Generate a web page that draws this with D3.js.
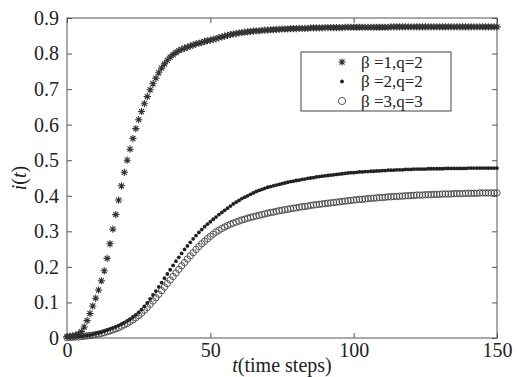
<!DOCTYPE html>
<html><head><meta charset="utf-8">
<script src="https://cdn.jsdelivr.net/npm/d3@7"></script>
<style>body{margin:0;background:#fff}svg{display:block}svg text{font-family:"Liberation Serif","Tinos","Times New Roman","DejaVu Serif",serif !important;fill:#222}</style>
</head><body><svg id="c" width="517" height="377"></svg>
<script>
const xTicks = [0, 50, 100, 150];
const yTicks = [0, 0.1, 0.2, 0.3, 0.4, 0.5, 0.6, 0.7, 0.8, 0.9];
const seriesLabels = ["\u03b2 =1,q=2", "\u03b2 =2,q=2", "\u03b2 =3,q=3"];
const s1 = [
0.004,0.005,0.006,0.008,0.011,0.018,0.031,0.049,0.069,0.090,
0.112,0.135,0.161,0.189,0.224,0.265,0.306,0.347,0.388,0.428,
0.466,0.500,0.531,0.561,0.589,0.614,0.637,0.659,0.679,0.698,
0.715,0.731,0.746,0.759,0.771,0.781,0.790,0.797,0.803,0.808,
0.812,0.815,0.818,0.821,0.824,0.827,0.829,0.831,0.834,0.836,
0.838,0.840,0.842,0.845,0.847,0.849,0.851,0.853,0.855,0.856,
0.858,0.859,0.860,0.861,0.862,0.863,0.864,0.864,0.865,0.866,
0.866,0.867,0.867,0.868,0.868,0.869,0.869,0.869,0.870,0.870,
0.870,0.871,0.871,0.871,0.871,0.872,0.872,0.872,0.872,0.872,
0.873,0.873,0.873,0.873,0.873,0.873,0.873,0.874,0.874,0.874,
0.874,0.874,0.874,0.874,0.874,0.874,0.874,0.874,0.874,0.874,
0.874,0.874,0.874,0.875,0.875,0.875,0.875,0.875,0.875,0.875,
0.875,0.875,0.875,0.875,0.875,0.875,0.875,0.875,0.875,0.875,
0.875,0.875,0.875,0.875,0.875,0.875,0.875,0.875,0.875,0.875,
0.875,0.875,0.875,0.875,0.875,0.875,0.875,0.875,0.875,0.875,0.875];
const s2 = [
0.002,0.002,0.003,0.003,0.004,0.005,0.006,0.007,0.008,0.010,
0.012,0.014,0.016,0.019,0.022,0.025,0.028,0.031,0.035,0.039,
0.043,0.048,0.053,0.059,0.065,0.072,0.080,0.089,0.099,0.110,
0.121,0.132,0.144,0.156,0.168,0.180,0.192,0.204,0.216,0.227,
0.238,0.249,0.259,0.269,0.279,0.288,0.297,0.305,0.313,0.320,
0.327,0.334,0.340,0.347,0.353,0.359,0.365,0.371,0.377,0.382,
0.387,0.392,0.396,0.400,0.404,0.408,0.412,0.415,0.418,0.421,
0.424,0.426,0.428,0.430,0.432,0.434,0.436,0.438,0.440,0.441,
0.443,0.444,0.446,0.447,0.449,0.450,0.451,0.453,0.454,0.455,
0.456,0.457,0.458,0.459,0.460,0.461,0.462,0.463,0.464,0.465,
0.465,0.466,0.467,0.467,0.468,0.468,0.469,0.469,0.470,0.470,
0.471,0.471,0.472,0.472,0.472,0.473,0.473,0.473,0.474,0.474,
0.474,0.475,0.475,0.475,0.475,0.475,0.476,0.476,0.476,0.476,
0.476,0.476,0.477,0.477,0.477,0.477,0.477,0.477,0.477,0.477,
0.478,0.478,0.478,0.478,0.478,0.478,0.478,0.478,0.478,0.478,0.478];
const s3 = [
0.001,0.002,0.002,0.003,0.003,0.004,0.005,0.006,0.007,0.008,
0.010,0.011,0.013,0.015,0.018,0.020,0.023,0.026,0.029,0.033,
0.037,0.041,0.046,0.051,0.057,0.063,0.070,0.078,0.086,0.095,
0.104,0.113,0.123,0.133,0.143,0.153,0.163,0.173,0.183,0.193,
0.203,0.212,0.222,0.231,0.240,0.249,0.257,0.265,0.272,0.279,
0.286,0.292,0.298,0.303,0.308,0.312,0.316,0.320,0.323,0.326,
0.329,0.332,0.334,0.337,0.339,0.341,0.343,0.345,0.347,0.349,
0.351,0.353,0.354,0.356,0.358,0.359,0.361,0.362,0.364,0.365,
0.366,0.368,0.369,0.370,0.371,0.373,0.374,0.375,0.376,0.377,
0.378,0.379,0.380,0.381,0.382,0.383,0.384,0.385,0.386,0.387,
0.388,0.389,0.390,0.390,0.391,0.392,0.393,0.393,0.394,0.395,
0.395,0.396,0.397,0.397,0.398,0.398,0.399,0.399,0.400,0.400,
0.401,0.401,0.402,0.402,0.402,0.403,0.403,0.403,0.404,0.404,
0.404,0.405,0.405,0.405,0.405,0.406,0.406,0.406,0.406,0.407,
0.407,0.407,0.407,0.407,0.408,0.408,0.408,0.408,0.408,0.408,0.408];

const FONT = "'Liberation Serif', Tinos, 'Times New Roman', 'DejaVu Serif', serif";
const svg = d3.select("#c");
const L = 67, R = 497, T = 18, B = 338;
const x = d3.scaleLinear().domain([0,150]).range([L,R]);
const y = d3.scaleLinear().domain([0,0.9]).range([B,T]);
const frame = "#555";

const ax = d3.axisBottom(x).tickValues(xTicks).tickSize(-5).tickPadding(5).tickFormat(d3.format("d"));
const gx = svg.append("g").attr("transform",`translate(0,${B})`).call(ax);
const gxt = svg.append("g").attr("transform",`translate(0,${T})`).call(d3.axisTop(x).tickValues(xTicks).tickSize(-5).tickFormat(""));
const ay = d3.axisLeft(y).tickValues(yTicks).tickSize(-5).tickPadding(8).tickFormat(d => d===0 ? "0" : d3.format(".1f")(d));
const gy = svg.append("g").attr("transform",`translate(${L},0)`).call(ay);
const gyr = svg.append("g").attr("transform",`translate(${R},0)`).call(d3.axisRight(y).tickValues(yTicks).tickSize(-5).tickFormat(""));
[gx,gxt,gy,gyr].forEach(g=>{
  g.attr("font-family",FONT);
  g.select(".domain").remove();
  g.selectAll(".tick line").attr("stroke",frame).attr("stroke-width",1);
  g.selectAll("text").attr("font-size",20).attr("fill","#222").style("font-family",FONT);
});
svg.append("rect").attr("x",L).attr("y",T).attr("width",R-L).attr("height",B-T)
  .attr("fill","none").attr("stroke",frame).attr("stroke-width",1);

const starPath = r => `M${-r},0L${r},0M0,${-r}L0,${r}M${-r*0.7},${-r*0.7}L${r*0.7},${r*0.7}M${-r*0.7},${r*0.7}L${r*0.7},${-r*0.7}`;
const plot = svg.append("g");
plot.selectAll("circle.s3").data(s3).join("circle").attr("class","s3")
  .attr("cx",(d,i)=>x(i)).attr("cy",d=>y(d)).attr("r",3.2)
  .attr("fill","none").attr("stroke","#444").attr("stroke-width",0.9);
plot.selectAll("circle.s2").data(s2).join("circle").attr("class","s2")
  .attr("cx",(d,i)=>x(i)).attr("cy",d=>y(d)).attr("r",1.9).attr("fill","#222");
plot.selectAll("path.s1").data(s1).join("path").attr("class","s1")
  .attr("transform",(d,i)=>`translate(${x(i)},${y(d)})`).attr("d",starPath(3.6))
  .attr("stroke","#333").attr("stroke-width",1.1).attr("fill","none");

const lg = svg.append("g");
lg.append("rect").attr("x",301).attr("y",52).attr("width",150).attr("height",59)
  .attr("fill","#fff").attr("stroke","#444").attr("stroke-width",1);
const rows = [62, 81.5, 101];
lg.append("path").attr("transform",`translate(342,${rows[0]})`).attr("d",starPath(3.6)).attr("stroke","#333").attr("stroke-width",1.1);
lg.append("circle").attr("cx",342).attr("cy",rows[1]).attr("r",1.9).attr("fill","#222");
lg.append("circle").attr("cx",342).attr("cy",rows[2]).attr("r",3.6).attr("fill","none").attr("stroke","#444").attr("stroke-width",0.9);
seriesLabels.forEach((t,i)=>{
  lg.append("text").attr("x",361).attr("y",rows[i]).attr("dy","0.33em").attr("font-size",17)
    .style("font-family",FONT).text(t);
});

const xt = svg.append("text").attr("x",(L+R)/2).attr("y",372).attr("text-anchor","middle").attr("font-size",20).style("font-family",FONT);
xt.append("tspan").attr("font-style","italic").text("t");
xt.append("tspan").text("(time steps)");
const yt = svg.append("text").attr("transform",`translate(26,${(T+B)/2}) rotate(-90)`).attr("text-anchor","middle").attr("font-size",20).style("font-family",FONT);
yt.append("tspan").attr("font-style","italic").text("i");
yt.append("tspan").text("(");
yt.append("tspan").attr("font-style","italic").text("t");
yt.append("tspan").text(")");
</script></body></html>
